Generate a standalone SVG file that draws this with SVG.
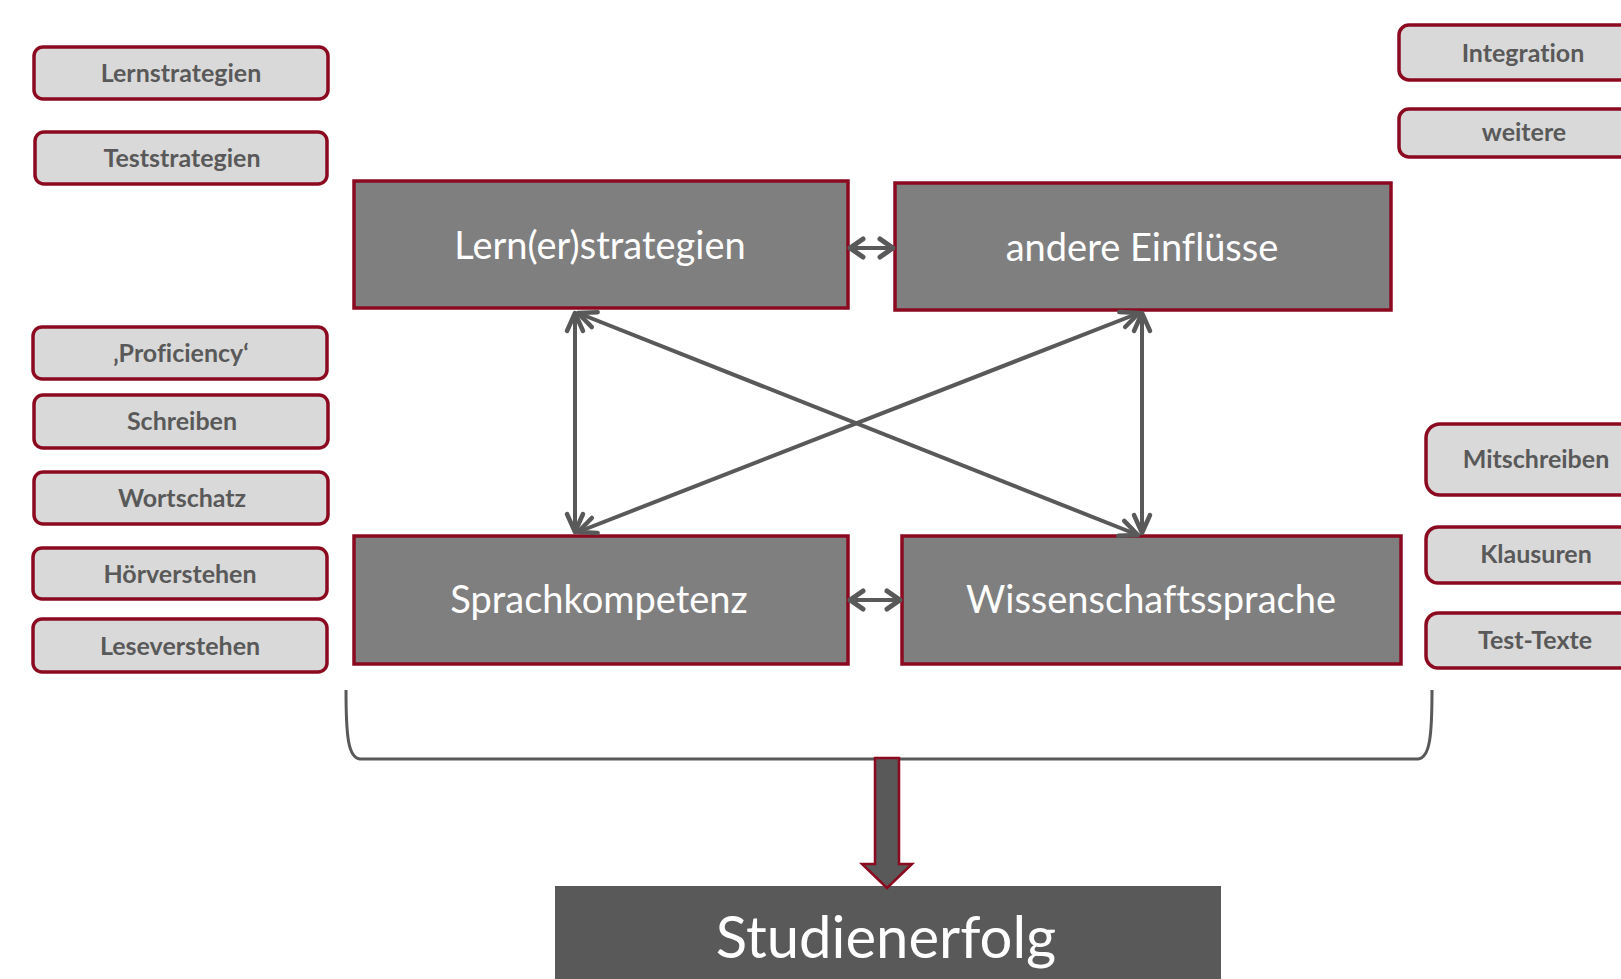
<svg xmlns="http://www.w3.org/2000/svg" width="1621" height="979" viewBox="0 0 1621 979">
<style>
.sb{fill:#D9D9D9;stroke:#8B0A1F;stroke-width:3.5}
.st{font-family:Lato,"Liberation Sans",sans-serif;font-weight:bold;font-size:25px;fill:#595959;text-anchor:middle;font-variant-ligatures:none}
.mb{fill:#7F7F7F;stroke:#8B0A1F;stroke-width:3.5}
.mt{font-family:Lato,"Liberation Sans",sans-serif;font-size:38px;fill:#FFFFFF;text-anchor:middle;font-variant-ligatures:none}
.ar{stroke:#595959;stroke-width:4;fill:none}
</style>
<defs>
<marker id="h" markerUnits="userSpaceOnUse" viewBox="-22 -12 26 24" refX="0" refY="0" markerWidth="26" markerHeight="24" orient="auto-start-reverse">
<path d="M -18 -8 L 0 0 L -18 8" fill="none" stroke="#595959" stroke-width="4.5" stroke-linecap="round" stroke-linejoin="round"/>
</marker>
<marker id="hs" markerUnits="userSpaceOnUse" viewBox="-22 -12 26 24" refX="0" refY="0" markerWidth="26" markerHeight="24" orient="auto-start-reverse">
<path d="M -13 -9 L 0 0 L -13 9" fill="none" stroke="#595959" stroke-width="5" stroke-linecap="round" stroke-linejoin="round"/>
</marker>
</defs>
<rect width="1621" height="979" fill="#FFFFFF"/>

<g id="lernstrategien"><rect class="sb" x="34" y="47" width="294" height="52" rx="9"/><text class="st" x="181" y="82">Lernstrategien</text></g>
<g id="teststrategien"><rect class="sb" x="35" y="132" width="292" height="52" rx="9"/><text class="st" x="182" y="167">Teststrategien</text></g>
<g id="proficiency"><rect class="sb" x="33" y="327" width="294" height="52" rx="9"/><text class="st" x="181" y="362">‚Proficiency‘</text></g>
<g id="schreiben"><rect class="sb" x="34" y="395" width="294" height="53" rx="9"/><text class="st" x="182" y="430">Schreiben</text></g>
<g id="wortschatz"><rect class="sb" x="34" y="472" width="294" height="52" rx="9"/><text class="st" x="182" y="507">Wortschatz</text></g>
<g id="hoerverstehen"><rect class="sb" x="33" y="548" width="294" height="51" rx="9"/><text class="st" x="180" y="583">Hörverstehen</text></g>
<g id="leseverstehen"><rect class="sb" x="33" y="619" width="294" height="53" rx="9"/><text class="st" x="180" y="655">Leseverstehen</text></g>

<g id="integration"><rect class="sb" x="1399" y="25" width="260" height="55" rx="10"/><text class="st" x="1523" y="62">Integration</text></g>
<g id="weitere"><rect class="sb" x="1399" y="109" width="260" height="48" rx="10"/><text class="st" x="1524" y="141">weitere</text></g>
<g id="mitschreiben"><rect class="sb" x="1426" y="424" width="240" height="71" rx="14"/><text class="st" x="1536" y="468">Mitschreiben</text></g>
<g id="klausuren"><rect class="sb" x="1426" y="527" width="240" height="56" rx="12"/><text class="st" x="1536" y="563">Klausuren</text></g>
<g id="test-texte"><rect class="sb" x="1426" y="613" width="240" height="55" rx="12"/><text class="st" x="1535" y="649">Test-Texte</text></g>

<g id="lernerstrategien"><rect class="mb" x="354" y="181" width="494" height="127"/><text class="mt" x="600" y="259">Lern(er)strategien</text></g>
<g id="andere-einfluesse"><rect class="mb" x="895" y="183" width="496" height="127"/><text class="mt" x="1142" y="261">andere Einflüsse</text></g>
<g id="sprachkompetenz"><rect class="mb" x="354" y="536" width="494" height="128"/><text class="mt" x="599" y="613">Sprachkompetenz</text></g>
<g id="wissenschaftssprache"><rect class="mb" x="902" y="536" width="499" height="128"/><text class="mt" x="1151" y="613">Wissenschaftssprache</text></g>

<g id="studienerfolg"><rect x="555" y="886" width="666" height="100" fill="#595959"/><text x="886" y="958" font-family="Lato,'Liberation Sans',sans-serif" font-size="58" fill="#FFFFFF" text-anchor="middle">Studienerfolg</text></g>

<g id="connectors">
<line class="ar" x1="850" y1="248" x2="893" y2="248" marker-start="url(#hs)" marker-end="url(#hs)"/>
<line class="ar" x1="850" y1="600" x2="900" y2="600" marker-start="url(#hs)" marker-end="url(#hs)"/>
<line class="ar" x1="575" y1="313" x2="575" y2="532" marker-start="url(#h)" marker-end="url(#h)"/>
<line class="ar" x1="1142" y1="313" x2="1142" y2="533" marker-start="url(#h)" marker-end="url(#h)"/>
<line class="ar" x1="578" y1="313" x2="1138" y2="535" marker-start="url(#h)" marker-end="url(#h)"/>
<line class="ar" x1="1139" y1="313" x2="578" y2="532" marker-start="url(#h)" marker-end="url(#h)"/>
<path d="M 346 690 C 346 735 348 758 360 759 L 1418 759 C 1430 758 1432 735 1432 690" fill="none" stroke="#595959" stroke-width="3"/>
<polygon points="875,758 899,758 899,864 912,864 887,888 862,864 875,864" fill="#595959" stroke="#8B0A1F" stroke-width="2.5"/>
</g>
</svg>
